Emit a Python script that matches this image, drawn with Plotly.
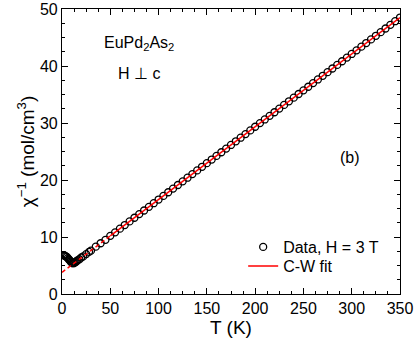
import plotly.graph_objects as go

# measured chi^-1 vs T (H = 3 T, H perp c)
temp_low = [1.8, 2, 3, 4, 5, 6, 7, 8, 9, 10, 11, 12, 13, 14, 15, 16, 18, 20, 22, 25, 28, 30, 35, 40, 45, 50]
chi_low = [6.8, 6.8, 6.7, 6.6, 6.5, 6.3, 6.1, 5.9, 5.7, 5.5, 5.4, 5.4, 5.5, 5.6, 5.75, 5.9, 6.1, 6.4, 6.6, 7.0, 7.4, 7.6, 8.3, 8.9, 9.5, 10.2]
temp_high = [55, 60, 65, 70, 75, 80, 85, 90, 95, 100, 105, 110, 115, 120, 125, 130, 135, 140, 145, 150,
             155, 160, 165, 170, 175, 180, 185, 190, 195, 200, 205, 210, 215, 220, 225, 230, 235, 240, 245, 250,
             255, 260, 265, 270, 275, 280, 285, 290, 295, 300, 305, 310, 315, 320, 325, 330, 335, 340, 345, 350]
chi_high = [10.82, 11.46, 12.10, 12.74, 13.38, 14.02, 14.65, 15.29, 15.93, 16.57, 17.21, 17.85, 18.49, 19.12, 19.76,
            20.40, 21.04, 21.68, 22.32, 22.96, 23.59, 24.23, 24.87, 25.51, 26.15, 26.79, 27.42, 28.06, 28.70, 29.34,
            29.98, 30.62, 31.26, 31.89, 32.53, 33.17, 33.81, 34.45, 35.09, 35.73, 36.36, 37.00, 37.64, 38.28, 38.92,
            39.56, 40.19, 40.83, 41.47, 42.11, 42.75, 43.39, 44.03, 44.66, 45.30, 45.94, 46.58, 47.22, 47.86, 48.50]

# Curie-Weiss fit (solid in fit range, dashed extrapolation)
fit_t_extra = [0, 50]
fit_chi_extra = [3.8, 10.19]
fit_t = [50, 350]
fit_chi = [10.19, 48.5]

font = "Liberation Sans, Arial, sans-serif"

fig = go.Figure()
fig.add_trace(go.Scatter(x=temp_low + temp_high, y=chi_low + chi_high, mode="markers",
                         name="Data, H = 3 T", legend="legend",
                         marker=dict(symbol="circle-open", size=7, color="black", line=dict(width=1.3))))
fig.add_trace(go.Scatter(x=fit_t_extra, y=fit_chi_extra, mode="lines", showlegend=False,
                         line=dict(color="red", width=1.5, dash="4px,3px")))
fig.add_trace(go.Scatter(x=fit_t, y=fit_chi, mode="lines", name="C-W fit", legend="legend2",
                         line=dict(color="red", width=1.5)))

axis_common = dict(showgrid=False, zeroline=False, showline=True, linecolor="black", linewidth=1.2,
                   mirror="ticks", ticks="inside", ticklen=6, tickwidth=1.2, tickcolor="black",
                   automargin=False,
                   tickfont=dict(family=font, size=16, color="black"))

fig.update_xaxes(range=[0, 350], dtick=50, tick0=0,
                 minor=dict(dtick=12.5, ticks="inside", ticklen=3, tickwidth=1, tickcolor="black"),
                 title=dict(text="T (K)", font=dict(family=font, size=19, color="black"), standoff=4),
                 **axis_common)
fig.update_yaxes(range=[0, 50], dtick=10, tick0=0,
                 minor=dict(dtick=2.5, ticks="inside", ticklen=3, tickwidth=1, tickcolor="black"),
                 title=dict(text="χ<sup>−1</sup> (mol/cm<sup>3</sup>)", font=dict(family=font, size=19, color="black"), standoff=0),
                 **axis_common)

fig.add_annotation(x=0.228, y=0.88, xref="paper", yref="paper", showarrow=False,
                   xanchor="center", yanchor="middle",
                   text="EuPd<sub>2</sub>As<sub>2</sub>", font=dict(family=font, size=16, color="black"))
fig.add_annotation(x=0.228, y=0.775, xref="paper", yref="paper", showarrow=False,
                   xanchor="center", yanchor="middle",
                   text="H ⊥ c", font=dict(family=font, size=16, color="black"))
fig.add_annotation(x=0.852, y=0.478, xref="paper", yref="paper", showarrow=False,
                   xanchor="center", yanchor="middle",
                   text="(b)", font=dict(family=font, size=16, color="black"))

legend_style = dict(xanchor="left", yanchor="middle", bgcolor="rgba(0,0,0,0)", itemwidth=30,
                    font=dict(family=font, size=16, color="black"))
fig.update_layout(width=416, height=347, margin=dict(l=62, r=16, t=9, b=53),
                  plot_bgcolor="white", paper_bgcolor="white",
                  legend=dict(x=0.536, y=0.165, **legend_style),
                  legend2=dict(x=0.536, y=0.098, **legend_style))

# page body has an 8px default margin; drop it so the chart fills the window
fig.write_html("out.html", config={"displayModeBar": False},
               post_script="document.body.style.margin = '0';")
